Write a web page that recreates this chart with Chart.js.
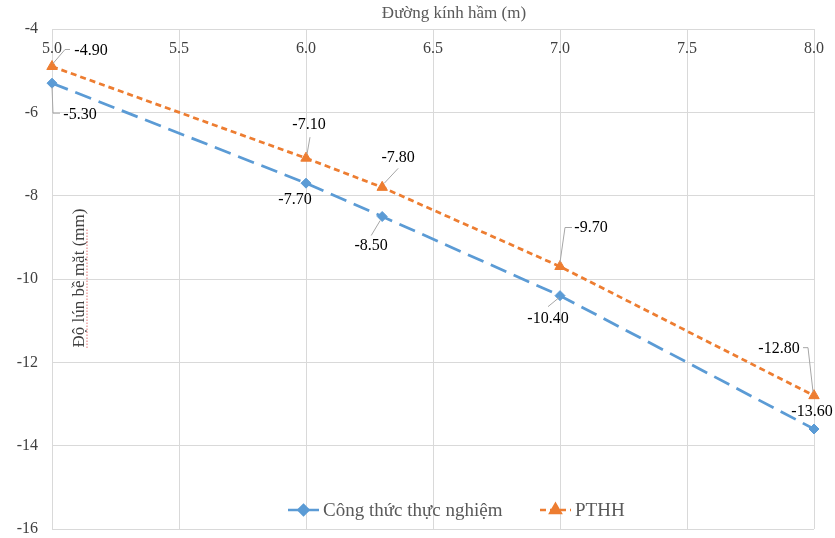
<!DOCTYPE html>
<html>
<head>
<meta charset="utf-8">
<script src="https://cdn.jsdelivr.net/npm/chart.js@4.4.1/dist/chart.umd.min.js"></script>
<style>
    html, body { margin: 0; padding: 0; background: #fff; }
    #wrap { width: 835px; height: 538px; }
</style>
</head>
<body>
<div id="wrap"><canvas id="chart_lun"></canvas></div>
<script>
const duongKinh = [5.0, 6.0, 6.3, 7.0, 8.0];
const lunThucNghiem = [-5.3, -7.7, -8.5, -10.4, -13.6];
const lunPTHH = [-4.9, -7.1, -7.8, -9.7, -12.8];
const tenSeries = ['Công thức thực nghiệm', 'PTHH'];
const tieuDeX = 'Đường kính hầm (m)';
const tieuDeY = 'Độ lún bề mặt (mm)';

const SERIF = '"Liberation Serif", "DejaVu Serif", serif';
const BLUE = '#5B9BD5';
const ORANGE = '#ED7D31';

// vi tri nhan du lieu (lech so voi diem, px) + duong dan
const nhanThucNghiem = [
    { dx: 28, dy: 32, line: [[0, 4], [1, 30], [8, 30]] },
    { dx: -11, dy: 17, line: null },
    { dx: -11, dy: 29, line: [[-2, 4], [-11, 19]] },
    { dx: -12, dy: 23, line: [[-1, 2], [-12, 11]] },
    { dx: -2, dy: -17, line: null }
];
const nhanPTHH = [
    { dx: 39, dy: -16, line: [[1, -3], [13, -17], [18, -17]] },
    { dx: 3, dy: -33, line: [[4, -21], [1, -4]] },
    { dx: 16, dy: -30, line: [[16, -19], [2, -4]] },
    { dx: 31, dy: -39, line: [[0, -4], [5, -39], [12, -39]] },
    { dx: -35, dy: -47, line: [[-11, -48], [-6, -48], [-1, -4]] }
];

function toPoints(ys) {
    return duongKinh.map((x, i) => ({ x: x, y: ys[i] }));
}

const dataLabels = {
    id: 'dataLabels',
    afterDatasetsDraw(chart) {
        const ctx = chart.ctx;
        const layouts = [nhanThucNghiem, nhanPTHH];
        ctx.save();
        chart.data.datasets.forEach((ds, di) => {
            const meta = chart.getDatasetMeta(di);
            meta.data.forEach((pt, i) => {
                const lay = layouts[di][i];
                if (lay.line) {
                    ctx.beginPath();
                    ctx.strokeStyle = '#a6a6a6';
                    ctx.lineWidth = 1;
                    lay.line.forEach((p, k) => {
                        if (k === 0) ctx.moveTo(pt.x + p[0], pt.y + p[1]);
                        else ctx.lineTo(pt.x + p[0], pt.y + p[1]);
                    });
                    ctx.stroke();
                }
                ctx.fillStyle = '#000';
                ctx.font = '16px ' + SERIF;
                ctx.textAlign = 'center';
                ctx.textBaseline = 'middle';
                ctx.fillText(ds.data[i].y.toFixed(2), pt.x + lay.dx, pt.y + lay.dy);
            });
        });
        ctx.restore();
    }
};

const axisText = {
    id: 'axisText',
    afterDraw(chart) {
        const ctx = chart.ctx;
        const xs = chart.scales.x;
        const area = chart.chartArea;
        ctx.save();
        // nhan truc x nam ben trong, duoi duong tren
        ctx.fillStyle = '#404040';
        ctx.font = '16px ' + SERIF;
        ctx.textAlign = 'center';
        ctx.textBaseline = 'middle';
        xs.ticks.forEach((t) => {
            ctx.fillText(t.value.toFixed(1), xs.getPixelForValue(t.value), area.top + 20);
        });
        // tieu de truc x
        ctx.fillStyle = '#595959';
        ctx.font = '17px ' + SERIF;
        ctx.fillText(tieuDeX, 454, 14);
        // tieu de truc y
        ctx.translate(80, 278);
        ctx.rotate(-Math.PI / 2);
        ctx.fillStyle = '#404040';
        ctx.fillText(tieuDeY, 0, 0);
        // gach chan kiem tra chinh ta
        ctx.beginPath();
        ctx.setLineDash([1.5, 1.5]);
        ctx.strokeStyle = '#e57373';
        ctx.lineWidth = 1;
        ctx.moveTo(-70, 7);
        ctx.lineTo(50, 7);
        ctx.stroke();
        ctx.restore();

        // chu giai
        ctx.save();
        ctx.font = '19px ' + SERIF;
        ctx.textBaseline = 'middle';
        const y = 510;
        const items = [
            { x: 288, color: BLUE, dash: [12, 7], style: 'rectRot', r: 5, text: tenSeries[0] },
            { x: 540, color: ORANGE, dash: [6, 4], style: 'triangle', r: 6, text: tenSeries[1] }
        ];
        items.forEach((it) => {
            ctx.beginPath();
            ctx.setLineDash(it.dash);
            ctx.strokeStyle = it.color;
            ctx.lineWidth = 2.5;
            ctx.moveTo(it.x, y);
            ctx.lineTo(it.x + 31, y);
            ctx.stroke();
            ctx.setLineDash([]);
            Chart.helpers.drawPoint(ctx, {
                pointStyle: it.style, radius: it.r, borderWidth: 1, rotation: 0
            }, it.x + 15.5, y);
            ctx.fillStyle = it.color;
            ctx.fill();
            ctx.fillStyle = '#595959';
            ctx.textAlign = 'left';
            ctx.fillText(it.text, it.x + 35, y + 1);
        });
        ctx.restore();
    }
};

const canvas = document.querySelector('#chart_lun');
new Chart(canvas, {
    type: 'line',
    data: {
        datasets: [{
            label: tenSeries[0],
            data: toPoints(lunThucNghiem),
            borderColor: BLUE,
            backgroundColor: BLUE,
            borderWidth: 2.75,
            borderDash: [17, 8],
            pointStyle: 'rectRot',
            pointRadius: 5,
            pointBorderWidth: 1,
            clip: false,
            fill: false
        }, {
            label: tenSeries[1],
            data: toPoints(lunPTHH),
            borderColor: ORANGE,
            backgroundColor: ORANGE,
            borderWidth: 2.75,
            borderDash: [6, 4],
            pointStyle: 'triangle',
            pointRadius: 6,
            pointBorderWidth: 1,
            clip: false,
            fill: false
        }]
    },
    options: {
        responsive: true,
        maintainAspectRatio: false,
        animation: false,
        events: [],
        layout: { padding: { right: 21, bottom: 9 } },
        plugins: {
            legend: { display: false },
            tooltip: { enabled: false }
        },
        scales: {
            x: {
                type: 'linear',
                position: 'top',
                min: 5,
                max: 8,
                ticks: { display: false, stepSize: 0.5 },
                grid: { color: '#d9d9d9', drawTicks: false },
                border: { display: false },
                afterFit(scale) { scale.height = 29; }
            },
            y: {
                min: -16,
                max: -4,
                ticks: {
                    stepSize: 2,
                    padding: 14,
                    color: '#404040',
                    font: { family: SERIF, size: 16 }
                },
                grid: { color: '#d9d9d9', drawTicks: false },
                border: { display: false },
                afterFit(scale) {
                    scale.width = 52;
                    scale.paddingTop = 0;
                    scale.paddingBottom = 0;
                }
            }
        }
    },
    plugins: [dataLabels, axisText]
});
</script>
</body>
</html>
